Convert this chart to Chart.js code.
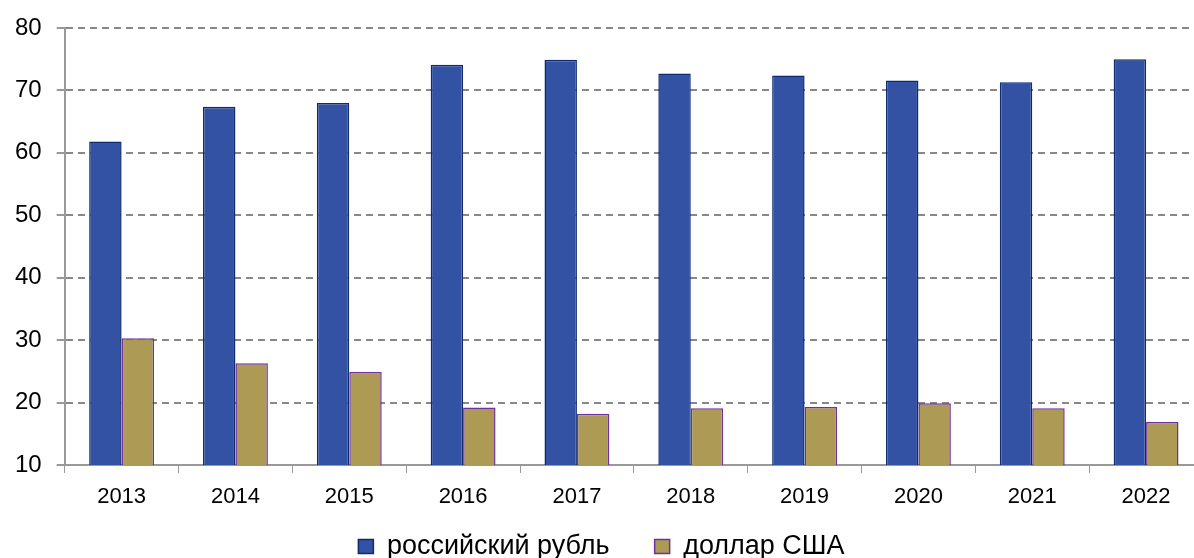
<!DOCTYPE html>
<html>
<head>
<meta charset="utf-8">
<script src="https://cdn.jsdelivr.net/npm/chart.js@4/dist/chart.umd.min.js"></script>
<style>
  html, body { margin: 0; padding: 0; background: #fff; overflow: hidden; }
  #wrap { width: 1194px; height: 558px; overflow: hidden; }
</style>
</head>
<body>
<div id="wrap"><canvas id="chart" width="1210" height="570"></canvas></div>
<script>
const years = ['2013', '2014', '2015', '2016', '2017', '2018', '2019', '2020', '2021', '2022'];
const rubleShare = [61.8, 67.4, 68.0, 74.1, 74.9, 72.7, 72.4, 71.6, 71.3, 75.0];
const usdShare = [30.3, 26.3, 24.9, 19.2, 18.2, 19.1, 19.3, 19.9, 19.1, 16.9];
const seriesNames = ['российский рубль', 'доллар США'];

const family = '"Liberation Sans", Arial, sans-serif';

// the year labels hang into the legend's top padding; widen the x label clip box after layout
const xLabelRoom = {
  id: 'xLabelRoom',
  afterLayout(chart) {
    const x = chart.scales.x;
    x.bottom = x.top + 60;
  }
};

new Chart(document.getElementById('chart'), {
  type: 'bar',
  data: {
    labels: years,
    datasets: [
      {
        label: seriesNames[0],
        data: rubleShare,
        backgroundColor: '#3352A4',
        borderColor: '#0F2A6E',
        borderWidth: 1.5,
        categoryPercentage: 0.57,
        barPercentage: 1
      },
      {
        label: seriesNames[1],
        data: usdShare,
        backgroundColor: '#AD9A54',
        borderColor: '#7030A0',
        borderWidth: 1.5,
        categoryPercentage: 0.57,
        barPercentage: 1
      }
    ]
  },
  plugins: [xLabelRoom],
  options: {
    responsive: false,
    animation: false,
    layout: { padding: { top: 4, left: 0, right: 7, bottom: 0 } },
    plugins: {
      tooltip: { enabled: false },
      legend: {
        position: 'bottom',
        labels: {
          color: '#000',
          font: { family: family, size: 27 },
          boxWidth: 15,
          boxHeight: 14,
          padding: 45,
          generateLabels(chart) {
            return chart.data.datasets.map((ds, i) => ({
              text: ds.label,
              fillStyle: ds.backgroundColor,
              strokeStyle: ds.borderColor,
              lineWidth: 1.5,
              datasetIndex: i
            }));
          }
        }
      }
    },
    scales: {
      x: {
        afterFit(scale) { scale.height = 23; },
        grid: {
          drawOnChartArea: false,
          offset: true,
          color: '#999',
          tickLength: 8
        },
        border: { color: '#999', width: 2 },
        ticks: { color: '#000', font: { family: family, size: 22 }, padding: 11 }
      },
      y: {
        min: 10,
        max: 80,
        ticks: { stepSize: 10, color: '#000', font: { family: family, size: 24, lineHeight: 1.08 }, padding: 15 },
        grid: {
          color: '#888',
          lineWidth: 2,
          tickLength: 8,
          tickColor: '#999',
          tickBorderDash: []
        },
        border: { color: '#999', width: 2, dash: [7, 5] }
      }
    }
  }
});
</script>
</body>
</html>
